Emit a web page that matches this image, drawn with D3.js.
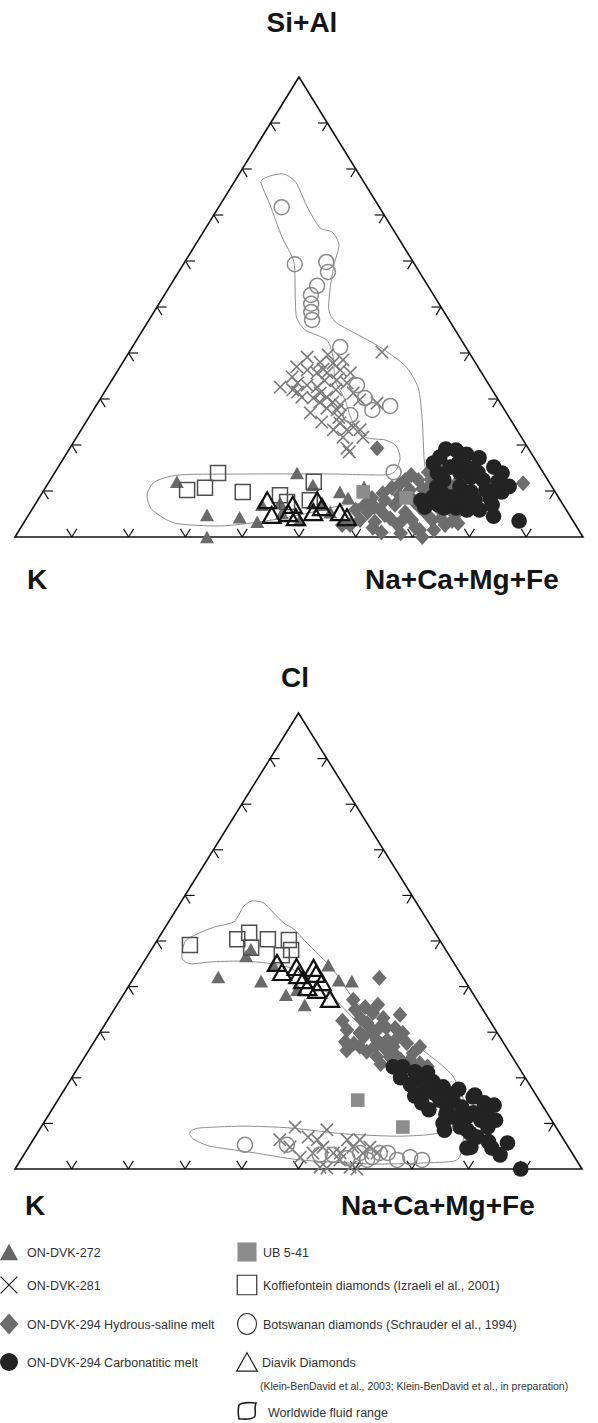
<!DOCTYPE html>
<html>
<head>
<meta charset="utf-8">
<script src="https://cdn.jsdelivr.net/npm/d3@7/dist/d3.min.js"></script>
<style>
body { margin: 0; background: #fff; }
svg { display: block; }
text { font-family: "Liberation Sans", Arial, sans-serif; }
</style>
</head>
<body>
<svg id="fig" width="598" height="1423"></svg>
<script>
// dane: [gorny wierzcholek %, prawy wierzcholek %]  (K = 100 - suma)

// --- wykres Si+Al / K / Na+Ca+Mg+Fe ---
let sialDVK272 = [[12.0,22.5],[4.8,31.4],[0,33.8],[4.3,37.4],[3.3,41.0],[7.0,40.0],[13.9,42.7],[11.3,46.8],[5.4,52.8],[9.8,52.3],[8.5,54.4],[10.9,56.0],[3.7,48.3],[5.2,44.4],[7.0,50.7],[7.4,43.0]];
let sialDVK281 = [[40.2,44.5],[39.1,31.9],[38.0,34.7],[39.6,35.3],[37.8,37.1],[36.3,39.1],[35.7,41.2],[33.5,41.7],[34.1,39.6],[35.7,37.1],[35.7,35.3],[36.3,33.3],[37.0,31.1],[34.8,31.4],[32.6,30.4],[32.0,32.9],[30.4,35.3],[33.0,34.9],[32.6,36.9],[31.3,38.1],[30.4,39.7],[29.3,41.3],[29.3,39.0],[30.2,37.4],[28.0,40.9],[27.6,42.9],[28.7,42.9],[31.3,43.9],[29.8,45.8],[29.1,49.2],[24.8,44.8],[23.3,46.8],[23.9,47.6],[23.3,49.1],[21.7,50.4],[23.3,44.4],[21.7,46.9],[19.3,48.8],[18.5,49.6],[34.0,37.5],[33.5,33.0],[31.5,34.0],[36.5,36.0],[38.5,38.5],[32.0,40.5],[27.0,38.5],[26.0,44.0],[25.0,41.5]];
let sialHydrous = [[19.3,54.1],[11.7,83.6],[3.5,75.2],[0,71.7],[3.7,58.9],[5.4,59.4],[3.3,61.7],[5.9,61.3],[8.0,61.1],[4.1,64.0],[7.0,63.4],[9.1,63.2],[2.6,66.1],[5.4,66.0],[10.2,64.4],[3.7,68.0],[7.6,66.6],[12.4,64.8],[1.5,70.5],[9.1,67.6],[5.4,69.5],[11.3,67.4],[3.7,71.6],[8.0,69.9],[12.8,68.4],[5.9,71.9],[2.6,74.4],[9.8,71.3],[7.0,73.1],[11.3,71.8],[4.8,75.1],[14.6,71.0],[8.0,74.7],[10.2,74.1],[5.9,77.2],[14.6,67.0],[14.1,65.7],[12.4,62.5],[10.7,61.0],[4.8,62.7],[7.0,58.1],[8.5,58.6],[2.6,57.7],[5.9,57.0],[2.6,56.3],[15.7,67.8],[16.3,69.8],[6.5,60.0],[9.5,60.0],[11.5,62.0],[13.5,63.0],[2.0,62.0],[1.0,64.0],[4.0,66.5],[6.5,68.0],[8.5,65.5],[10.5,66.5],[12.5,67.0],[0.8,67.5],[2.0,69.5],[4.0,73.0],[6.5,72.0],[1.5,73.0],[3.0,76.5]];
let sialCarbo = [[19.1,66.3],[18.9,68.2],[17.2,73.1],[15.2,76.7],[13.9,78.8],[11.3,79.4],[9.8,80.8],[8.5,79.4],[5.9,78.8],[5.9,76.6],[6.3,74.5],[6.3,72.4],[6.5,68.9],[8.7,69.2],[10.9,68.8],[13.9,67.4],[16.1,65.6],[17.4,66.1],[3.5,87.0],[15.2,69.0],[13.9,71.4],[13.0,73.8],[12.4,76.2],[10.9,72.9],[9.8,75.4],[10.2,77.8],[8.7,72.6],[8.0,74.9],[12.4,69.3],[8.0,77.0],[8.0,67.5],[16.0,70.0],[18.0,70.5],[15.0,72.5],[14.0,74.5],[12.0,79.0],[7.0,80.5],[4.5,82.0],[11.0,81.5],[9.5,70.5],[7.0,71.0]];
let sialUB541 = [[9.8,56.4],[8.5,64.6]];
let sialKoff = [[13.9,28.8],[10.2,25.2],[10.7,28.1],[9.8,35.2],[9.1,42.1],[7.6,44.1],[12.0,46.6],[8.0,47.9]];
let sialBots = [[71.7,11.1],[59.3,19.6],[59.8,24.9],[57.6,26.3],[54.6,25.9],[52.6,25.8],[50.7,26.8],[48.9,27.7],[47.2,28.7],[41.3,36.6],[33.0,43.7],[30.2,46.5],[27.6,49.1],[28.5,51.8],[26.5,45.8],[14.1,59.6]];
let sialDiavik = [[8.0,40.4],[4.8,42.8],[7.0,45.4],[4.3,47.3],[8.0,49.2],[6.5,50.8],[5.4,49.8],[5.4,54.5],[4.3,56.3],[5.2,45.5]];
let sialRange = [[77.2,4.7],[78.5,5.7],[78.9,7.9],[77.0,11.0],[71.5,15.8],[67.2,20.1],[66.3,22.7],[63.5,25.3],[59.1,26.6],[53.7,28.6],[49.3,30.6],[46.7,33.1],[44.3,37.7],[41.3,43.6],[37.2,50.1],[32.4,54.8],[25.4,59.0],[16.7,63.7],[10.2,67.6],[7.6,67.5],[7.4,60.6],[7.0,54.6],[4.8,47.8],[3.3,41.5],[2.4,34.9],[3.0,26.7],[5.9,21.2],[9.1,18.7],[12.0,18.6],[13.5,22.3],[13.7,34.5],[13.7,48.6],[13.5,58.4],[14.6,59.8],[17.2,59.2],[19.8,57.2],[21.1,54.6],[21.7,50.8],[25.4,46.6],[29.8,43.2],[34.1,39.3],[38.9,36.6],[42.8,33.5],[45.0,28.6],[47.6,25.8],[51.5,23.6],[59.8,19.2],[65.2,14.4],[72.2,8.8]];

// --- wykres Cl / K / Na+Ca+Mg+Fe ---
let clDVK272 = [[42.1,14.8],[46.7,17.4],[48.2,17.5],[41.2,22.8],[38.2,28.7],[36.0,33.1],[44.7,32.9],[41.4,36.4],[41.2,38.8],[44.7,23.2],[39.3,30.1]];
let clDVK281 = [[9.2,44.8],[6.4,43.5],[4.8,46.1],[7.0,48.2],[6.4,50.1],[8.6,50.7],[4.8,51.9],[3.5,54.4],[0.4,53.6],[0.2,54.9],[6.4,55.4],[4.8,57.2],[0.4,58.9],[0,60.3],[3.5,55.6],[3.5,59.6],[4.8,60.2],[3.5,62.1],[6.4,57.6],[3.5,50.8],[2.6,49.0],[2.0,56.3]];
let clHydrous = [[41.9,43.3],[37.1,41.1],[35.5,44.0],[34.2,46.0],[33.1,48.4],[33.8,51.0],[30.9,51.6],[31.1,48.8],[32.0,46.1],[29.8,45.9],[30.5,43.3],[27.9,44.3],[26.8,47.4],[25.7,49.2],[24.6,51.5],[28.3,51.5],[26.6,51.8],[26.8,53.3],[27.6,55.3],[25.4,57.5],[23.9,57.7],[23.2,59.8],[21.7,58.3],[20.2,57.8],[19.5,60.4],[24.6,53.8],[23.2,55.8],[29.8,53.5],[29.8,48.1],[28.3,49.7],[26.8,58.0],[35.0,42.5],[33.0,44.5],[31.5,46.5],[29.0,47.0],[27.5,46.0],[26.0,45.5],[28.5,53.0],[25.5,54.0],[24.0,56.0],[22.0,56.5],[31.0,50.0],[27.0,50.0],[23.0,53.0],[20.5,61.0],[22.5,61.5],[32.5,41.5],[36.0,46.0]];
let clCarbo = [[22.4,55.5],[22.4,57.2],[21.3,59.9],[21.1,62.2],[19.1,64.2],[18.0,66.5],[16.7,67.9],[15.1,69.7],[13.6,72.0],[11.4,74.0],[15.8,72.9],[12.3,74.7],[9.2,73.9],[7.9,76.3],[4.6,77.4],[19.5,62.2],[16.7,65.4],[13.6,69.4],[11.4,72.3],[15.1,67.4],[11.4,71.5],[16.2,73.0],[14.0,77.5],[10.7,79.4],[9.2,78.8],[4.8,78.0],[4.6,81.8],[5.7,84.0],[3.1,84.0],[0,89.2],[10.7,76.8],[8.6,75.4],[20.0,58.0],[18.5,60.5],[17.5,63.5],[16.0,62.5],[14.5,64.5],[13.0,66.5],[12.0,70.0],[10.0,70.5],[8.5,71.5],[17.5,69.5],[14.5,75.5],[12.5,77.0],[7.0,78.0],[6.0,80.5]];
let clUB541 = [[15.1,52.9],[9.2,63.8]];
let clKoff = [[49.1,6.3],[50.4,14.0],[51.8,15.4],[50.4,19.4],[50.2,23.2],[48.0,24.7],[48.5,17.4],[46.9,23.6]];
let clBots = [[5.3,37.9],[5.3,45.3],[3.1,52.2],[3.1,54.5],[2.4,57.4],[3.5,59.1],[2.6,61.7],[3.5,62.6],[3.5,64.0],[2.0,66.4],[2.6,68.4],[2.0,70.8],[2.0,61.1]];
let clDiavik = [[45.2,23.6],[43.2,25.5],[44.3,27.5],[42.5,28.7],[44.1,30.6],[42.8,31.7],[39.9,31.6],[39.3,33.6],[37.3,36.9],[41.4,30.1],[41.0,33.6]];
let clRange = [[46.3,6.3],[50.2,5.1],[52.9,8.3],[54.2,11.5],[57.5,11.5],[58.8,12.4],[58.3,14.8],[56.1,17.6],[53.9,20.5],[52.6,22.9],[50.2,25.9],[47.1,29.9],[45.0,32.7],[42.1,36.0],[37.9,40.4],[34.2,45.2],[30.5,51.5],[27.6,56.4],[24.3,61.6],[20.6,66.8],[15.6,71.2],[10.7,74.0],[4.2,76.7],[1.8,76.7],[1.3,70.8],[1.1,62.1],[2.0,49.3],[3.7,39.6],[5.0,31.9],[6.6,28.1],[8.1,26.8],[9.0,28.1],[9.4,35.9],[9.0,44.0],[7.7,54.3],[7.2,64.3],[8.1,71.0],[12.9,68.9],[18.4,65.4],[21.7,60.6],[26.1,54.0],[29.4,47.9],[33.8,42.2],[38.2,36.5],[41.4,31.3],[44.1,26.5],[45.2,21.5],[45.6,16.9],[45.4,11.7],[45.0,8.4]];

let podpisy = ['ON-DVK-272','ON-DVK-281','ON-DVK-294 Hydrous-saline melt','ON-DVK-294 Carbonatitic melt',
  'UB 5-41','Koffiefontein diamonds (Izraeli el al., 2001)','Botswanan diamonds (Schrauder el al., 1994)','Diavik Diamonds',
  '(Klein-BenDavid et al., 2003; Klein-BenDavid et al., in preparation)','Worldwide fluid  range'];

let svg = d3.select('#fig');

// ksztalty znacznikow
function znacznik(typ, s) {
	s = s || 1;
	if (typ == 'tri') { let w=7*s, h=6.3*s; return `M0,${-h}L${w},${h}L${-w},${h}Z`; }
	if (typ == 'otri') { let w=9*s, h=8*s; return `M0,${-h}L${w},${h}L${-w},${h}Z`; }
	if (typ == 'x') { let a=6.2*s; return `M${-a},${-a}L${a},${a}M${-a},${a}L${a},${-a}`; }
	if (typ == 'dia') { let w=7.3*s, h=8*s; return `M0,${-h}L${w},0L0,${h}L${-w},0Z`; }
	if (typ == 'sq') { let a=7.5*s; return `M${-a},${-a}H${a}V${a}H${-a}Z`; }
	if (typ == 'ub') { let a=6.8*s; return `M${-a},${-a}H${a}V${a}H${-a}Z`; }
	return '';
}

function rysuj(cfg) {
	let g = svg.append('g');
	// skale: u = prawy + gorny/2 (poziomo), gorny (pionowo)
	let x = d3.scaleLinear().domain([0,100]).range([cfg.x0, cfg.x1]);
	let y = d3.scaleLinear().domain([0,100]).range([cfg.yb, cfg.ya]);
	let px = d => x(d[1] + d[0]/2);
	let py = d => y(d[0]);

	let A = [x(50), y(100)], B = [x(0), y(0)], C = [x(100), y(0)];

	// obszar "worldwide"
	g.append('path')
		.datum(cfg.range)
		.attr('d', d3.line().x(px).y(py).curve(d3.curveCardinalClosed.tension(0.3)))
		.attr('fill', 'none')
		.attr('stroke', '#8d8d8d')
		.attr('stroke-width', 1);

	// trojkat
	g.append('path')
		.attr('d', `M${A}L${B}L${C}Z`)
		.attr('fill', 'none')
		.attr('stroke', '#111')
		.attr('stroke-width', 1.6);

	// znaczniki podzialki
	let L = 9.5;
	let dir = (p, q) => { let dx=q[0]-p[0], dy=q[1]-p[1], n=Math.hypot(dx,dy); return [dx/n, dy/n]; };
	let boki = [[B, C, dir(B,A), dir(C,A)], [B, A, dir(B,C), dir(A,C)], [C, A, dir(C,B), dir(A,B)]];
	let ticks = [];
	for (let b of boki) {
		for (let k=1; k<10; k++) {
			let f = k/10;
			let p = [b[0][0] + f*(b[1][0]-b[0][0]), b[0][1] + f*(b[1][1]-b[0][1])];
			ticks.push([p, [p[0]+L*b[2][0], p[1]+L*b[2][1]]]);
			ticks.push([p, [p[0]+L*b[3][0], p[1]+L*b[3][1]]]);
		}
	}
	g.append('g').selectAll('line').data(ticks).join('line')
		.attr('x1', d=>d[0][0]).attr('y1', d=>d[0][1])
		.attr('x2', d=>d[1][0]).attr('y2', d=>d[1][1])
		.attr('stroke', '#111').attr('stroke-width', 1.2);

	// serie
	let serie = [
		{dane: cfg.dvk272, typ: 'tri', fill: '#6a6a6a', stroke: 'none'},
		{dane: cfg.dvk281, typ: 'x', fill: 'none', stroke: '#7b7b7b', sw: 1.6},
		{dane: cfg.hydrous, typ: 'dia', fill: '#6d6d6d', stroke: 'none'},
		{dane: cfg.carbo, typ: 'circ', fill: '#232323', stroke: 'none', r: 7.8},
		{dane: cfg.ub, typ: 'ub', fill: '#8c8c8c', stroke: 'none'},
		{dane: cfg.koff, typ: 'sq', fill: 'none', stroke: '#4f4f4f', sw: 1.5},
		{dane: cfg.bots, typ: 'circ', fill: 'none', stroke: '#8a8a8a', sw: 1.5, r: 7.5},
		{dane: cfg.diavik, typ: 'otri', fill: 'none', stroke: '#111', sw: 2.2}
	];
	for (let s of serie) {
		let sel = g.append('g').selectAll('.m').data(s.dane);
		if (s.typ == 'circ') {
			sel.join('circle')
				.attr('cx', px).attr('cy', py).attr('r', s.r)
				.attr('fill', s.fill).attr('stroke', s.stroke).attr('stroke-width', s.sw || 0);
		} else {
			sel.join('path')
				.attr('d', znacznik(s.typ))
				.attr('transform', d => `translate(${px(d)},${py(d)})`)
				.attr('fill', s.fill).attr('stroke', s.stroke).attr('stroke-width', s.sw || 0);
		}
	}

	// etykiety wierzcholkow
	g.append('text').attr('x', cfg.topX).attr('y', cfg.topY).attr('text-anchor', 'middle')
		.attr('font-size', 28).attr('font-weight', 'bold').attr('fill', '#151515').text(cfg.topLabel);
	g.append('text').attr('x', cfg.kX).attr('y', cfg.labY).attr('font-size', 28).attr('font-weight', 'bold')
		.attr('fill', '#151515').text('K');
	g.append('text').attr('x', cfg.naX).attr('y', cfg.labY).attr('font-size', 28).attr('font-weight', 'bold')
		.attr('fill', '#151515').text('Na+Ca+Mg+Fe');
}

rysuj({x0: 15, x1: 583, yb: 537, ya: 77, topLabel: 'Si+Al', topX: 302, topY: 32, kX: 27, naX: 365, labY: 589,
	dvk272: sialDVK272, dvk281: sialDVK281, hydrous: sialHydrous, carbo: sialCarbo, ub: sialUB541,
	koff: sialKoff, bots: sialBots, diavik: sialDiavik, range: sialRange});

rysuj({x0: 15, x1: 582, yb: 1169, ya: 713, topLabel: 'Cl', topX: 295, topY: 687, kX: 25, naX: 341, labY: 1215,
	dvk272: clDVK272, dvk281: clDVK281, hydrous: clHydrous, carbo: clCarbo, ub: clUB541,
	koff: clKoff, bots: clBots, diavik: clDiavik, range: clRange});

// legenda
let leg = svg.append('g').attr('fill', '#333').attr('font-size', 12.5);
let wiersze = [1252, 1285, 1324, 1362];
let lewa = [
	{typ: 'tri', fill: '#666', stroke: 'none', s: 1.3},
	{typ: 'x', fill: 'none', stroke: '#222', sw: 1.3, s: 1.35},
	{typ: 'dia', fill: '#6d6d6d', stroke: 'none', s: 1.3},
	{typ: 'circ', fill: '#232323', r: 9}
];
lewa.forEach((m, i) => {
	if (m.typ == 'circ') leg.append('circle').attr('cx', 9).attr('cy', wiersze[i]).attr('r', m.r).attr('fill', m.fill);
	else leg.append('path').attr('d', znacznik(m.typ, m.s)).attr('transform', `translate(9,${wiersze[i]})`)
		.attr('fill', m.fill).attr('stroke', m.stroke).attr('stroke-width', m.sw || 0);
	leg.append('text').attr('x', 27).attr('y', wiersze[i]).attr('dy', '0.36em').text(podpisy[i]);
});
let prawa = [
	{typ: 'ub', fill: '#8c8c8c', stroke: 'none', s: 1.4},
	{typ: 'sq', fill: 'none', stroke: '#333', sw: 1.2, s: 1.3},
	{typ: 'circ', r: 9.5},
	{typ: 'otri', fill: 'none', stroke: '#222', sw: 1.2, s: 1.15}
];
prawa.forEach((m, i) => {
	if (m.typ == 'circ') leg.append('ellipse').attr('cx', 247).attr('cy', wiersze[i]).attr('rx', 9.5).attr('ry', 10.5)
		.attr('fill', 'none').attr('stroke', '#333').attr('stroke-width', 1.2);
	else leg.append('path').attr('d', znacznik(m.typ, m.s)).attr('transform', `translate(247,${wiersze[i]})`)
		.attr('fill', m.fill).attr('stroke', m.stroke).attr('stroke-width', m.sw || 0);
	leg.append('text').attr('x', i == 3 ? 262 : 263).attr('y', wiersze[i]).attr('dy', '0.36em').text(podpisy[4 + i]);
});
leg.append('text').attr('x', 260).attr('y', 1386).attr('dy', '0.36em').attr('font-size', 10.5).text(podpisy[8]);
leg.append('path')
	.attr('d', 'M-8,-6C-4,-10 4,-8 9,-8C7,-4 9,1 8,5C6,9 -2,8 -8,8C-9,3 -9,-2 -8,-6Z')
	.attr('transform', 'translate(247,1411)')
	.attr('fill', 'none').attr('stroke', '#222').attr('stroke-width', 1.6);
leg.append('text').attr('x', 268).attr('y', 1412).attr('dy', '0.36em').text(podpisy[9]);
</script>
</body>
</html>
